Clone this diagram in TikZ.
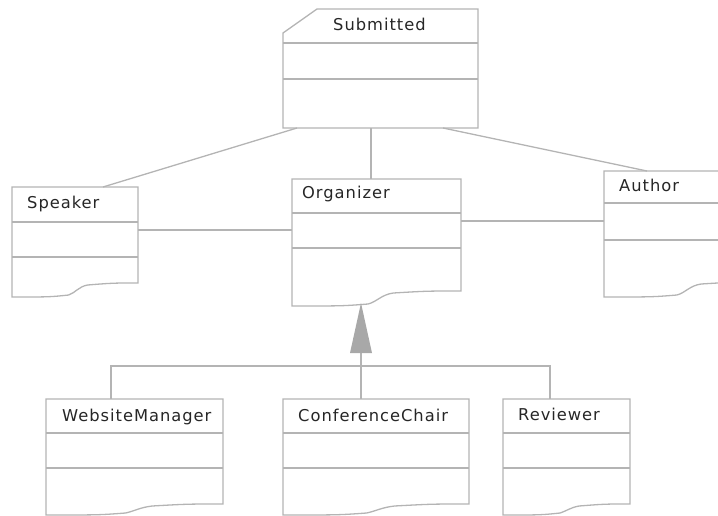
\documentclass[tikz,border=0pt]{standalone}
\usepackage{fontspec}
\setmainfont{DejaVu Sans}
\newfontfamily\classfont[LetterSpace=6]{DejaVu Sans}
\usetikzlibrary{calc}

\definecolor{edgegray}{HTML}{B4B4B4}
\definecolor{headgray}{HTML}{A8A8A8}
\definecolor{inkgray}{HTML}{262626}

\tikzset{
  outline/.style={draw=edgegray, line width=1.3pt, line join=miter},
  assoc/.style={draw=edgegray, line width=1.3pt},
  boxarea/.style={inner sep=0pt, outer sep=0pt, anchor=north west},
  classname/.style={font=\classfont\fontsize{16.3}{19}\selectfont, text=inkgray,
    inner sep=0pt, anchor=base west},
  gentip/.style={fill=headgray, draw=none},
}

% UML class box with a wavy (torn) bottom edge:
% #1 name, #2 left, #3 top, #4 right, #5 first divider, #6 second divider,
% #7 bottom at the right edge, #8 bottom at the left edge
\newcommand\umlclass[8]{%
  \pgfmathsetmacro\cw{#4-#2}%
  \pgfmathsetmacro\ch{#8-#3}%
  \node[boxarea, minimum width=\cw pt, minimum height=\ch pt] (#1) at (#2,#3) {};
  \draw[outline] (#2,#8) -- (#2,#3) -- (#4,#3) -- (#4,#7)
    .. controls (#2+0.8*\cw,#7) .. (#2+0.6*\cw,#7+2)
    .. controls (#2+0.53*\cw,#7+3.5) and (#2+0.5*\cw,#8-4) .. (#2+0.45*\cw,#8-2)
    .. controls (#2+0.3*\cw,#8) .. (#2,#8) -- cycle;
  \draw[outline] (#2,#5) -- (#4,#5) (#2,#6) -- (#4,#6);
}

\begin{document}
\begin{tikzpicture}[x=1pt, y=-1pt]
  \useasboundingbox (0,0) rectangle (718,516);
  \clip (0,0) rectangle (718,516);

  % top class with clipped corner
  \node[boxarea, minimum width=195pt, minimum height=119pt] (sub) at (283,9) {};
  \draw[outline] (283,33) -- (317,9) -- (478,9) -- (478,128) -- (283,128) -- cycle;
  \draw[outline] (283,43) -- (478,43) (283,79) -- (478,79);
  \node[classname] (sub-l) at (333,31) {Submitted};

  % middle row
  \umlclass{spk}{12}{187}{138}{222}{257}{283}{297}
  \node[classname] (spk-l) at (27,208) {Speaker};

  \umlclass{org}{292}{179}{461}{213}{248}{291}{306}
  \node[classname] (org-l) at (302,199) {Organizer};

  \umlclass{aut}{604}{171}{766}{203}{240}{282}{297}
  \node[classname] (aut-l) at (619,192) {Author};

  % bottom row
  \umlclass{wm}{46}{399}{223}{433}{468}{504}{515}
  \node[classname] (wm-l) at (62,421) {WebsiteManager};

  \umlclass{cc}{283}{399}{469}{433}{468}{504}{515}
  \node[classname] (cc-l) at (298,421) {ConferenceChair};

  \umlclass{rev}{503}{399}{630}{433}{468}{504}{515}
  \node[classname] (rev-l) at (518,420) {Reviewer};

  % associations
  \draw[assoc] ([xshift=14pt]sub.south west) -- ([xshift=91pt]spk.north west);
  \draw[assoc] ([xshift=88pt]sub.south west) -- ([xshift=79pt]org.north west);
  \draw[assoc] ([xshift=160pt]sub.south west) -- ([xshift=43pt]aut.north west);
  \draw[assoc] ([yshift=-43pt]spk.north east) -- ([yshift=-51pt]org.north west);
  \draw[assoc] ([yshift=-42pt]org.north east) -- ([yshift=-50pt]aut.north west);

  % generalization tree
  \coordinate (apex) at ([xshift=69pt, yshift=3pt]org.south west);
  \coordinate (tbase) at ($(apex)+(0,50)$);
  \coordinate (bus) at ($(tbase)+(0,13)$);
  \draw[assoc] (tbase) -- ([xshift=78pt]cc.north west);
  \draw[assoc] ([xshift=65pt]wm.north west) |- (bus) -| ([xshift=47pt]rev.north west);
  \fill[gentip] (apex) -- ($(tbase)+(-11,0)$) -- ($(tbase)+(11,0)$) -- cycle;
\end{tikzpicture}
\end{document}
